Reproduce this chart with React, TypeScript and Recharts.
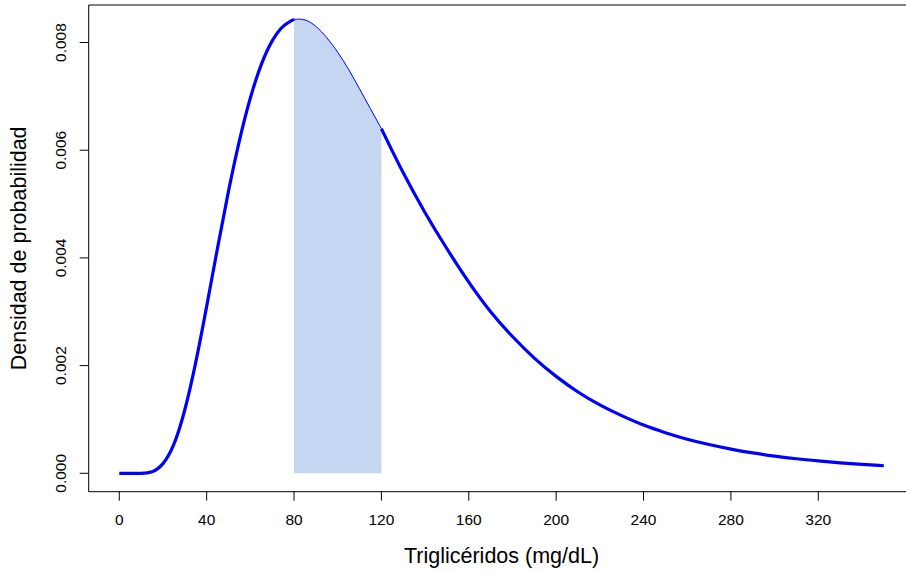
import { ComposedChart, Line, Area, XAxis, YAxis, ReferenceArea } from "recharts";

const triglic = [
  0, 5, 10, 15, 20, 25, 30, 35, 40, 45, 50, 55, 60, 65, 70, 75, 80, 85, 90, 95, 100,
  105, 110, 115, 120, 130, 140, 150, 160, 170, 180, 190, 200, 210, 220, 230, 240,
  250, 260, 270, 280, 290, 300, 310, 320, 330, 340, 350,
];
const densidad = [
  0, 0, 0, 0.00003, 0.00018, 0.00054, 0.00118, 0.00206, 0.0031, 0.00419, 0.00524,
  0.00618, 0.00697, 0.00759, 0.00803, 0.0083, 0.00843, 0.00842, 0.0083, 0.00809,
  0.00782, 0.0075, 0.00714, 0.00677, 0.0064, 0.00558, 0.00484, 0.00417, 0.00355,
  0.003, 0.00254, 0.00214, 0.0018, 0.00151, 0.00127, 0.00107, 0.000895, 0.000754,
  0.000633, 0.000534, 0.000449, 0.000379, 0.00032, 0.00027, 0.00023, 0.000195,
  0.000165, 0.00014,
];
const shadeFrom = 80;
const shadeTo = 120;
const xTicks = [0, 40, 80, 120, 160, 200, 240, 280, 320];
const yTicks = [0, 0.002, 0.004, 0.006, 0.008];

const xDomain = [-14, 364];
const yDomain = [-0.000342, 0.008697];

const curve = triglic.map((x, i) => ({ x, d: densidad[i] }));
const left = curve.filter((p) => p.x <= shadeFrom);
const right = curve.filter((p) => p.x >= shadeTo);
const shade = curve.filter((p) => p.x >= shadeFrom && p.x <= shadeTo);

const font = "'Liberation Sans', Arial, Helvetica, sans-serif";

const XTick = ({ x, payload }: any) => (
  <text x={x} y={519} textAnchor="middle" dominantBaseline="central" fontSize={15.5} fontFamily={font} fill="#000">
    {payload.value}
  </text>
);

const YTick = ({ y, payload }: any) => (
  <text
    x={61}
    y={y}
    transform={`rotate(-90, 61, ${y})`}
    textAnchor="middle"
    dominantBaseline="central"
    fontSize={15.5}
    fontFamily={font}
    fill="#000"
  >
    {Number(payload.value).toFixed(3)}
  </text>
);

export default function App() {
  return (
    <div style={{ position: "absolute", left: 0, top: 0, width: 906, height: 571, overflow: "hidden", background: "#fff" }}>
      <ComposedChart width={930} height={571} margin={{ top: 5, right: 15.6, bottom: 0, left: 0 }}>
        <XAxis
          dataKey="x"
          type="number"
          domain={xDomain}
          ticks={xTicks}
          allowDataOverflow
          height={79.3}
          axisLine={false}
          tickLine={{ stroke: "#000" }}
          tickSize={9}
          tick={<XTick />}
          label={{
            content: ({ viewBox }: any) => (
              <text
                x={viewBox.x + viewBox.width / 2}
                y={563}
                textAnchor="middle"
                fontSize={21.5}
                fontFamily={font}
                fill="#000"
              >
                Triglicéridos (mg/dL)
              </text>
            ),
          }}
        />
        <YAxis
          type="number"
          domain={yDomain}
          ticks={yTicks}
          allowDataOverflow
          width={88.7}
          axisLine={false}
          tickLine={{ stroke: "#000" }}
          tickSize={9}
          tick={<YTick />}
          label={{
            content: ({ viewBox }: any) => {
              const cy = viewBox.y + viewBox.height / 2;
              return (
                <text
                  x={19}
                  y={cy}
                  transform={`rotate(-90, 19, ${cy})`}
                  textAnchor="middle"
                  dominantBaseline="central"
                  fontSize={21.5}
                  fontFamily={font}
                  fill="#000"
                >
                  Densidad de probabilidad
                </text>
              );
            },
          }}
        />
        <ReferenceArea x1={xDomain[0]} x2={xDomain[1]} y1={yDomain[0]} y2={yDomain[1]} fill="none" stroke="#000" strokeWidth={1} />
        <Area
          data={shade}
          dataKey="d"
          type="natural"
          baseValue={0}
          fill="#c4d6f2"
          fillOpacity={1}
          stroke="#0000ff"
          strokeWidth={1}
          dot={false}
          isAnimationActive={false}
        />
        <Line
          data={left}
          dataKey="d"
          type="natural"
          stroke="#0000ff"
          strokeWidth={3.2}
          dot={false}
          isAnimationActive={false}
        />
        <Line
          data={right}
          dataKey="d"
          type="natural"
          stroke="#0000ff"
          strokeWidth={3.2}
          dot={false}
          isAnimationActive={false}
        />
      </ComposedChart>
    </div>
  );
}
